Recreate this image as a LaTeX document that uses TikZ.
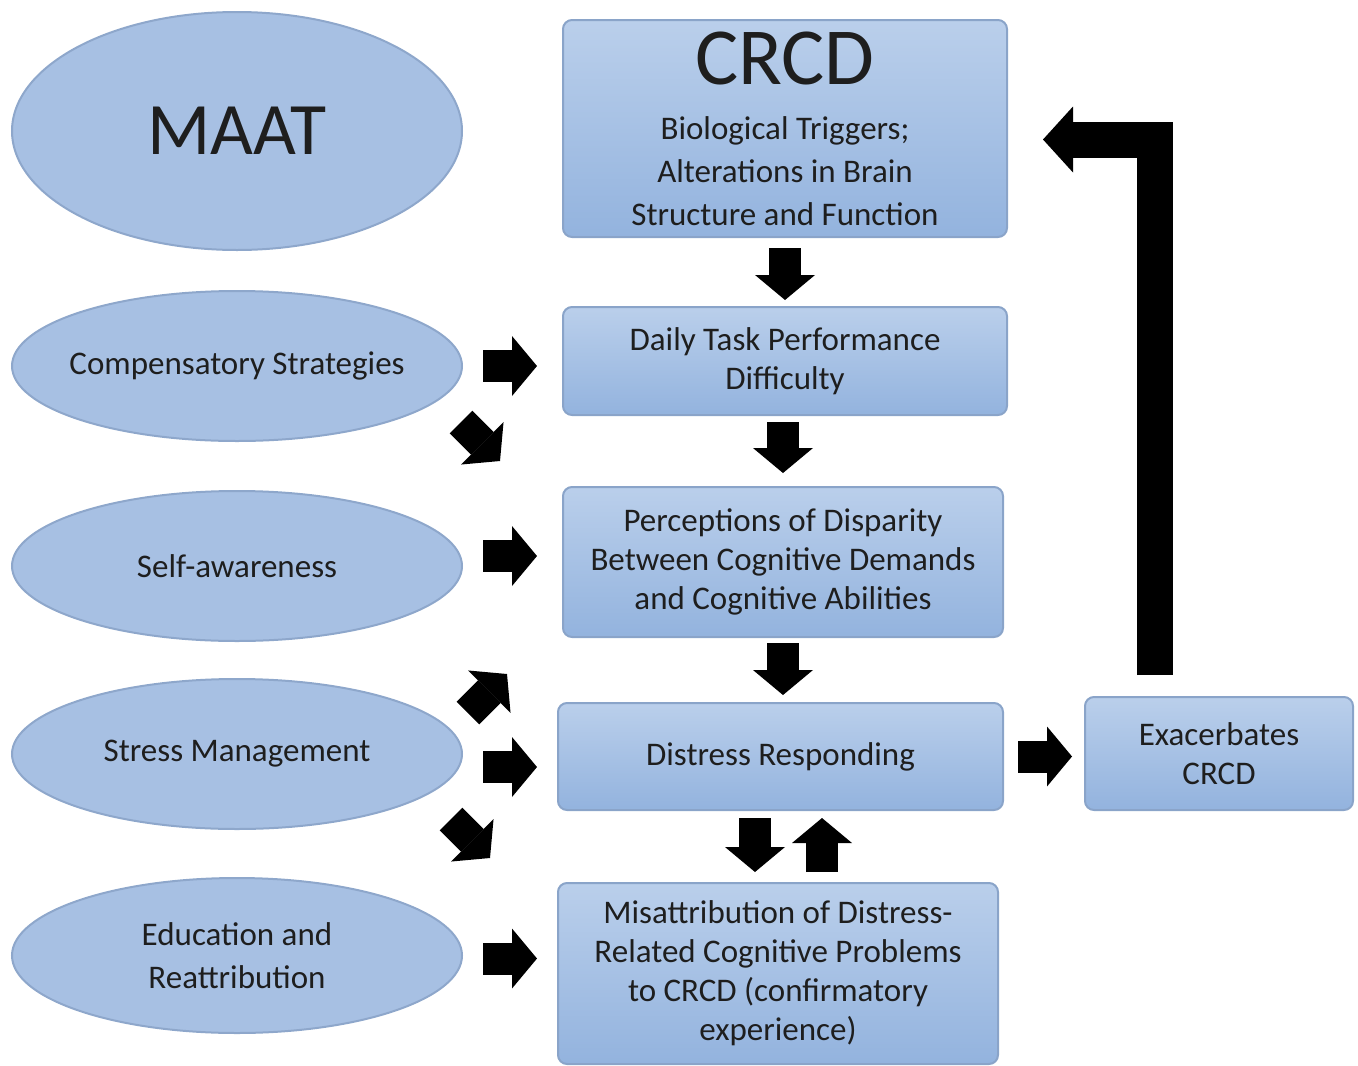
\documentclass[tikz,border=0pt]{standalone}
\usepackage{fontspec}
\setmainfont{Carlito}
\usetikzlibrary{shapes.geometric, positioning, arrows.meta}
\definecolor{boxtop}{HTML}{BACFEB}
\definecolor{boxbot}{HTML}{93B3DE}
\definecolor{boxline}{HTML}{8AA4C9}
\definecolor{ovalfill}{HTML}{A7C0E3}
\definecolor{ovalline}{HTML}{8EA7CB}
\definecolor{ink}{HTML}{1E1E1E}
\tikzset{x=1pt, y=-1pt, % pixel-like units, y runs downwards
box/.style={draw=boxline, line width=2pt, rounded corners=9pt,
  top color=boxtop, bottom color=boxbot, align=center, text=ink,
  inner sep=0pt, outer sep=0pt, font=\fontsize{33}{39}\selectfont},
oval/.style={ellipse, draw=ovalline, line width=2pt, fill=ovalfill,
  align=center, text=ink, inner xsep=-80pt, inner ysep=0pt, outer sep=0pt, % keeps the ellipse at its minimum size
  minimum width=450pt, minimum height=150pt, font=\fontsize{33}{43}\selectfont},
blk/.style={line width=32pt, -{Triangle[length=25pt, width=60pt, line width=0pt]}}, % fat block arrows
back/.style={line width=36pt, -{Triangle[length=30pt, width=66pt, line width=0pt]}}, % feedback arrow
}

\begin{document}
\begin{tikzpicture}
  \useasboundingbox (0,0) rectangle (1358,1066);

  % MAAT components
  \node[oval, minimum height=238pt, font=\fontsize{74}{80}\selectfont] (maat) at (237,131) {MAAT};
  \node[oval, below=41pt of maat] (comp) {Compensatory Strategies};
  \node[oval, below=50pt of comp] (self) {Self-awareness};
  \node[oval, below=38pt of self] (stress) {Stress Management};
  \node[oval, below=49pt of stress, minimum height=155pt] (edu) {Education and\\Reattribution};

  % CRCD chain
  \node[box, minimum width=444pt, minimum height=217pt, font=\fontsize{33}{43}\selectfont] (crcd) at (785,128.5)
    {{\fontsize{81}{81}\selectfont CRCD}\\[12pt]Biological Triggers;\\Alterations in Brain\\Structure and Function};
  \node[box, below=70pt of crcd, minimum width=444pt, minimum height=108pt] (daily)
    {Daily Task Performance\\Difficulty};
  \node[box, below=72pt of daily, xshift=-2pt, minimum width=440pt, minimum height=150pt] (perc)
    {Perceptions of Disparity\\Between Cognitive Demands\\and Cognitive Abilities};
  \node[box, below=66pt of perc, xshift=-2.5pt, minimum width=445pt, minimum height=107pt] (distress)
    {Distress Responding};
  \node[box, below=73pt of distress, xshift=-2.5pt, minimum width=440pt, minimum height=181pt] (misattr)
    {Misattribution of Distress-\\Related Cognitive Problems\\to CRCD (confirmatory\\experience)};
  \node[box, right=82pt of distress, yshift=3pt, minimum width=268pt, minimum height=113pt] (exac)
    {Exacerbates\\CRCD};

  % down the chain
  \draw[blk] ([yshift=-11pt]crcd.south) -- ([yshift=7pt]daily.north);
  \draw[blk] ([xshift=-2pt, yshift=-7pt]daily.south) -- ([yshift=14pt]perc.north);
  \draw[blk] ([yshift=-6pt]perc.south) -- ([xshift=2.5pt, yshift=8pt]distress.north);
  \draw[blk] ([xshift=-25.5pt, yshift=-8pt]distress.south) -- ([xshift=-23pt, yshift=11pt]misattr.north);
  \draw[blk] ([xshift=44pt, yshift=11pt]misattr.north) -- ([xshift=41.5pt, yshift=-8pt]distress.south);

  % from the components
  \draw[blk] ([xshift=21pt]comp.east) -- ([xshift=-26pt]comp.east -| daily.west);
  \draw[blk] ([xshift=-1pt, yshift=-56pt]comp.east) -- ++(39,39);
  \draw[blk] ([xshift=21pt, yshift=10pt]self.east) -- ([xshift=-26pt, yshift=10pt]self.east -| perc.west);
  \draw[blk] ([xshift=6pt, yshift=41pt]stress.east) -- ++(39,-39);
  \draw[blk] ([xshift=21pt, yshift=-13pt]stress.east) -- ([xshift=-21pt, yshift=-13pt]stress.east -| distress.west);
  \draw[blk] ([xshift=-11pt, yshift=-65pt]stress.east) -- ++(39,39);
  \draw[blk] ([xshift=21pt, yshift=-3pt]edu.east) -- ([xshift=-21pt, yshift=-3pt]edu.east -| misattr.west);

  % feedback loop
  \draw[blk] ([xshift=15pt]distress.east) -- ([xshift=-13pt]exac.west |- distress.east);
  \draw[back] ([xshift=-64pt, yshift=22pt]exac.north) |- ([xshift=36pt, yshift=-11pt]crcd.east);
\end{tikzpicture}
\end{document}
